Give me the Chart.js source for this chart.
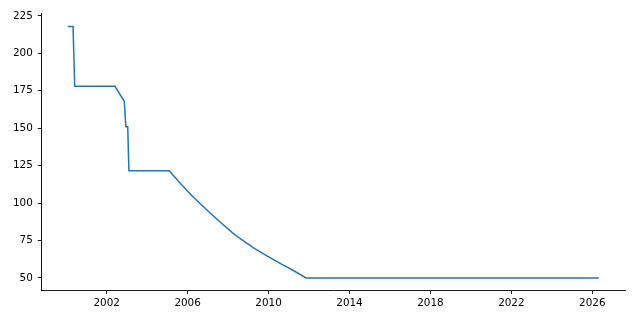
<!DOCTYPE html>
<html>
<head>
<meta charset="utf-8">
<script src="https://cdn.jsdelivr.net/npm/chart.js@4/dist/chart.umd.min.js"></script>
<style>
  html, body { margin: 0; padding: 0; background: #fff; }
  canvas { display: block; }
</style>
</head>
<body>
<canvas id="chart" width="640" height="320"></canvas>
<script>
// readings (decimal years)
const years = [2000.08, 2000.34, 2000.42, 2002.41, 2002.87, 2002.95, 2003.04, 2003.10,
  2005.09, 2005.66, 2006.24, 2006.90, 2007.55, 2008.21, 2008.62, 2009.28, 2009.94,
  2010.60, 2011.25, 2011.85, 2026.32];
const values = [218, 218, 178, 178, 168, 151, 151, 121.5,
  121.5, 112.9, 104.6, 96.0, 88.0, 80.3, 76.0, 69.9, 64.6,
  59.5, 54.8, 50, 50];

const xTicks = [2002, 2006, 2010, 2014, 2018, 2022, 2026];
const yTicks = [50, 75, 100, 125, 150, 175, 200, 225];

const tickFont = { family: 'DejaVu Sans', size: 10.4 };

const axisStyle = (ticks, pad) => ({
  type: 'linear',
  border: { display: true, color: '#000', width: 0.9 },
  grid: {
    drawOnChartArea: false,
    drawTicks: true,
    tickLength: 3.5,
    tickWidth: 0.9,
    tickColor: '#000'
  },
  ticks: {
    font: tickFont,
    color: '#000',
    padding: pad,
    autoSkip: false,
    maxRotation: 0,
    callback: v => String(v)
  },
  afterBuildTicks: scale => {
    scale.ticks = ticks.map(value => ({ value }));
  }
});

const xScale = axisStyle(xTicks, 3);
xScale.min = 1998.77;
xScale.max = 2027.63;
xScale.afterFit = scale => { scale.height = 29.5; };

const yScale = axisStyle(yTicks, 5);
yScale.min = 41.6;
yScale.max = 226.4;
yScale.afterFit = scale => { scale.width = 41.3; };

new Chart(document.getElementById('chart'), {
  type: 'line',
  data: {
    datasets: [{
      data: years.map((x, i) => ({ x, y: values[i] })),
      borderColor: '#1f77b4',
      borderWidth: 1.5,
      pointRadius: 0,
      tension: 0,
      fill: false
    }]
  },
  options: {
    responsive: false,
    animation: false,
    layout: { padding: { left: 0, right: 14.7, top: 13.8, bottom: 0 } },
    plugins: {
      legend: { display: false },
      tooltip: { enabled: false }
    },
    scales: { x: xScale, y: yScale }
  }
});
</script>
</body>
</html>
